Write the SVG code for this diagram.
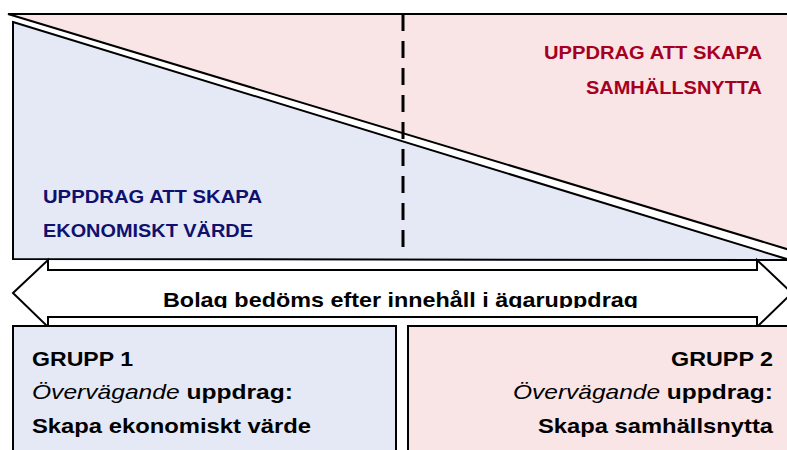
<svg xmlns="http://www.w3.org/2000/svg" width="787" height="450" viewBox="0 0 787 450">
<defs>
<style>
.edge{stroke:#000;stroke-width:2;stroke-linejoin:miter}
.pink{fill:#F9E4E6}
.blue{fill:#E5E9F5}
.t{font-family:"Liberation Sans",Arial,sans-serif;font-weight:bold}
.red{fill:#A50021;font-size:19px}
.navy{fill:#10106E;font-size:19px}
.blk{fill:#000;font-size:21px}
.it{font-style:italic;font-weight:normal}
</style>
<clipPath id="textclip"><rect x="0" y="260" width="787" height="48"/></clipPath>
</defs>
<rect width="787" height="450" fill="#fff"/>
<g id="samhallsnytta">
<polygon class="pink edge" points="8,14 790,14 790,250"/>
<text class="t red" x="762" y="59" text-anchor="end" textLength="218" lengthAdjust="spacingAndGlyphs">UPPDRAG ATT SKAPA</text>
<text class="t red" x="762" y="94" text-anchor="end" textLength="176" lengthAdjust="spacingAndGlyphs">SAMHÄLLSNYTTA</text>
</g>
<g id="ekonomiskt">
<polygon class="blue edge" points="13,22 790,260 13,259"/>
<text class="t navy" x="43" y="203" textLength="219" lengthAdjust="spacingAndGlyphs">UPPDRAG ATT SKAPA</text>
<text class="t navy" x="43" y="237" textLength="210" lengthAdjust="spacingAndGlyphs">EKONOMISKT VÄRDE</text>
</g>
<g id="connectors">
<line x1="403" y1="14" x2="403" y2="254" stroke="#000" stroke-width="3" stroke-dasharray="17 10"/>
</g>
<g id="arrow">
<polygon class="edge" fill="#fff" points="13,293 48,260 48,270 757,270 757,260 792,293 757,327 757,317 48,317 48,327"/>
<text class="t blk" x="163" y="307" clip-path="url(#textclip)" textLength="475" lengthAdjust="spacingAndGlyphs">Bolag bedöms efter innehåll i ägaruppdrag</text>
</g>
<g id="grupp1">
<rect class="blue edge" x="13" y="326" width="383" height="140"/>
<text class="t blk" x="32" y="366" textLength="101" lengthAdjust="spacingAndGlyphs">GRUPP 1</text>
<text class="t blk" x="32" y="399" textLength="261" lengthAdjust="spacingAndGlyphs"><tspan class="it">Övervägande</tspan> uppdrag:</text>
<text class="t blk" x="32" y="433" textLength="279" lengthAdjust="spacingAndGlyphs">Skapa ekonomiskt värde</text>
</g>
<g id="grupp2">
<rect class="pink edge" x="408" y="326" width="390" height="140"/>
<text class="t blk" x="773" y="366" text-anchor="end" textLength="102" lengthAdjust="spacingAndGlyphs">GRUPP 2</text>
<text class="t blk" x="773" y="399" text-anchor="end" textLength="260" lengthAdjust="spacingAndGlyphs"><tspan class="it">Övervägande</tspan> uppdrag:</text>
<text class="t blk" x="773" y="433" text-anchor="end" textLength="235" lengthAdjust="spacingAndGlyphs">Skapa samhällsnytta</text>
</g>
</svg>
